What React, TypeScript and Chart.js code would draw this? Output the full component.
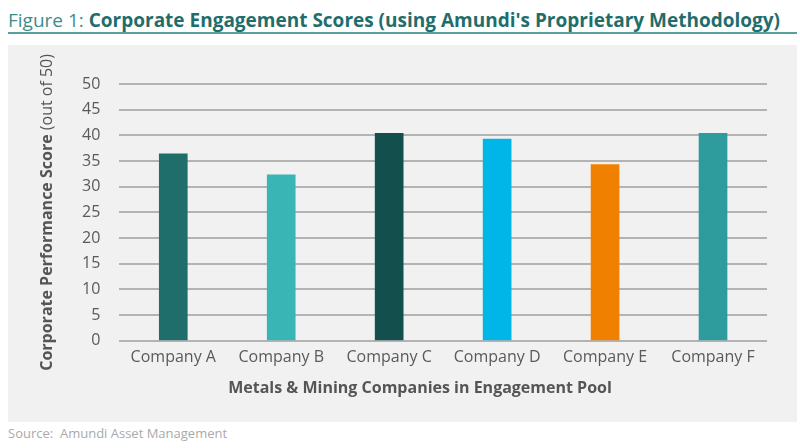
import React, { useEffect, useRef } from "react";
import { Chart, registerables } from "chart.js";

Chart.register(...registerables);

const categories = ["Company A", "Company B", "Company C", "Company D", "Company E", "Company F"];
const scores = [36.4, 32.3, 40.4, 39.3, 34.3, 40.4];
const barColors = ["#1f6e6c", "#3ab5b5", "#134f4d", "#00b5e8", "#f08000", "#2e9b9d"];
const yTicks = [0, 5, 10, 15, 20, 25, 30, 35, 40, 45, 50];
const yTitleBold = "Corporate Performance Score";
const yTitleLight = " (out of 50)";
const xTitle = "Metals & Mining Companies in Engagement Pool";

const FONT = "'Open Sans', 'DejaVu Sans', sans-serif";

const titlesPlugin = {
  id: "customTitles",
  afterDraw(chart: any) {
    const ctx = chart.ctx;
    const area = chart.chartArea;
    ctx.save();
    ctx.fillStyle = "#555555";
    ctx.textBaseline = "middle";
    ctx.font = `bold 16px ${FONT}`;
    const wb = ctx.measureText(yTitleBold).width;
    ctx.font = `16px ${FONT}`;
    const wl = ctx.measureText(yTitleLight).width;
    const total = wb + wl;
    const cy = (area.top + area.bottom) / 2;
    ctx.translate(39, cy);
    ctx.rotate(-Math.PI / 2);
    ctx.textAlign = "left";
    ctx.font = `bold 16px ${FONT}`;
    ctx.fillText(yTitleBold, -total / 2, 0);
    ctx.font = `16px ${FONT}`;
    ctx.fillText(yTitleLight, -total / 2 + wb, 0);
    ctx.restore();

    ctx.save();
    ctx.fillStyle = "#555555";
    ctx.font = `bold 16px ${FONT}`;
    ctx.textAlign = "center";
    ctx.textBaseline = "middle";
    ctx.fillText(xTitle, 412, 343);
    ctx.restore();
  },
};

export default function App() {
  const ref = useRef<HTMLCanvasElement>(null);
  useEffect(() => {
    if (!ref.current) return;
    const chart = new Chart(ref.current, {
      type: "bar",
      data: {
        labels: categories,
        datasets: [
          {
            data: scores,
            backgroundColor: barColors,
            barThickness: 28,
          },
        ],
      },
      options: {
        animation: false,
        responsive: false,
        maintainAspectRatio: false,
        layout: { padding: { left: 55, right: 30, top: 39, bottom: 48 } },
        plugins: { legend: { display: false }, tooltip: { enabled: false } },
        scales: {
          x: {
            grid: { display: false, drawTicks: false },
            border: { display: false },
            ticks: { color: "#5a5a5a", font: { family: FONT, size: 16 }, padding: 7 },
          },
          y: {
            min: 0,
            max: 50,
            afterBuildTicks(scale: any) {
              scale.ticks = yTicks.map((v) => ({ value: v }));
            },
            grid: { color: "#b3b3b3", lineWidth: 2, drawTicks: false },
            border: { display: false },
            ticks: { color: "#5a5a5a", font: { family: FONT, size: 16 }, padding: 19 },
          },
        },
      },
      plugins: [titlesPlugin],
    });
    return () => chart.destroy();
  }, []);

  return (
    <div style={{ position: "fixed", left: 0, top: 0, width: 800, height: 448, background: "#ffffff", overflow: "hidden" }}>
      <div style={{ position: "absolute", left: 8, top: 8, fontFamily: FONT, fontSize: 19, whiteSpace: "nowrap", lineHeight: "24px" }}>
        <span style={{ color: "#3d8d8b" }}>Figure 1: </span>
        <span style={{ color: "#1f6e6c", fontWeight: "bold" }}>Corporate Engagement Scores (using Amundi's Proprietary Methodology)</span>
      </div>
      <div style={{ position: "absolute", left: 8, top: 32, width: 789, height: 2, background: "#5a9e9c" }} />
      <div style={{ position: "absolute", left: 8, top: 45, width: 789, height: 377, background: "#f1f1f1" }}>
        <canvas ref={ref} width={789} height={377} style={{ display: "block" }} />
      </div>
      <div style={{ position: "absolute", left: 8, top: 424, fontFamily: FONT, fontSize: 13, color: "#aaaaaa", whiteSpace: "pre" }}>
        Source:  Amundi Asset Management
      </div>
    </div>
  );
}
